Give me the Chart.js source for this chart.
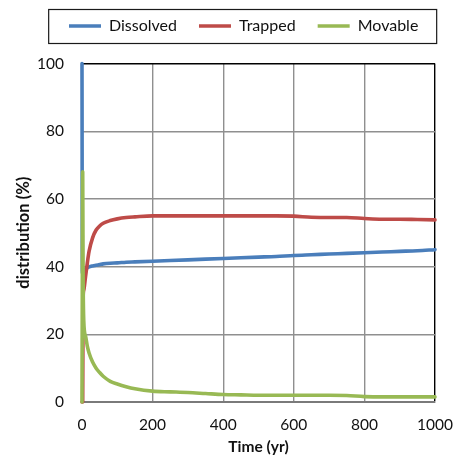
<!DOCTYPE html>
<html>
<head>
<meta charset="utf-8">
<script src="https://cdn.jsdelivr.net/npm/chart.js@4.4.1/dist/chart.umd.min.js"></script>
<style>
  html, body { margin: 0; padding: 0; background: #ffffff; }
  canvas { display: block; }
</style>
</head>
<body>
<canvas id="c" width="453" height="466"></canvas>
<script>
const years     = [0, 1, 2, 3, 5, 10, 15, 20, 30, 40, 50, 60, 80, 100, 125, 150, 200, 250, 300, 350, 400, 450, 500, 550, 600, 650, 700, 750, 800, 850, 900, 950, 1000];
const dissolved = [100, 38, 38.2, 38.4, 38.8, 39.3, 39.6, 39.9, 40.2, 40.4, 40.6, 40.8, 41.0, 41.1, 41.3, 41.4, 41.6, 41.8, 42.0, 42.2, 42.4, 42.6, 42.8, 43.0, 43.3, 43.5, 43.7, 43.9, 44.1, 44.3, 44.5, 44.7, 45.0];
const trapped   = [0, 0, 0, 30, 33, 37, 41, 44.5, 48.5, 50.8, 52, 52.8, 53.6, 54.1, 54.5, 54.7, 55, 55, 55, 55, 55, 55, 55, 55, 54.9, 54.6, 54.5, 54.5, 54.2, 54, 54, 53.9, 53.8];
const movable   = [0, 40, 68, 40, 24, 19.5, 16.5, 14.5, 11.8, 10, 8.7, 7.6, 6.1, 5.3, 4.5, 3.9, 3.2, 3.0, 2.8, 2.5, 2.2, 2.1, 2.0, 2.0, 2.0, 2.0, 2.0, 1.9, 1.6, 1.5, 1.5, 1.5, 1.5];
const seriesNames = ['Dissolved', 'Trapped', 'Movable'];
const xTicks = [0, 200, 400, 600, 800, 1000];
const yTicks = [0, 20, 40, 60, 80, 100];

const FONT = 'Lato, "Open Sans", "Liberation Sans", sans-serif';
const toXY = vals => years.map((t, i) => ({ x: t, y: vals[i] }));

const mkSet = (label, vals, color, order) => ({
  label, data: toXY(vals), borderColor: color, backgroundColor: color,
  borderWidth: 3.6, pointRadius: 0, pointHoverRadius: 0, fill: false,
  cubicInterpolationMode: 'monotone', borderCapStyle: 'round', borderJoinStyle: 'round',
  order, clip: 4
});

const legendTweak = {
  id: 'legendTweak',
  beforeInit(chart) {
    const lg = chart.legend;
    const origFit = lg.fit;
    lg.fit = function () { origFit.call(this); this.height += 15.5; };
    const origDraw = lg.draw;
    lg.draw = function () {
      const ctx = this.ctx;
      const pad = this.options.labels.padding;
      const x0 = (this.left + pad + this.right - this.lineWidths[0]) / 2;
      const dx = 69 - x0, dy = -4;
      ctx.save();
      ctx.translate(dx, dy);
      origDraw.call(this);
      const hb = this.legendHitBoxes;
      if (hb && hb.length) {
        const cy = hb[0].top + hb[0].height / 2;
        const last = hb[hb.length - 1];
        const l = hb[0].left - 21, r = last.left + last.width + 18;
        ctx.strokeStyle = '#1a1a1a';
        ctx.lineWidth = 1.2;
        ctx.strokeRect(Math.round(l) + 0.5, Math.round(cy - 17) + 0.5, Math.round(r - l), 34);
      }
      ctx.restore();
    };
  }
};

new Chart(document.getElementById('c'), {
  type: 'line',
  data: {
    datasets: [
      mkSet(seriesNames[0], dissolved, '#4A7EBB', 3),
      mkSet(seriesNames[1], trapped, '#BE4B48', 2),
      mkSet(seriesNames[2], movable, '#98B954', 1)
    ]
  },
  options: {
    responsive: false,
    animation: false,
    devicePixelRatio: 1,
    layout: { padding: { left: 0, right: 18, top: 0, bottom: 0 } },
    plugins: {
      tooltip: { enabled: false },
      legend: {
        position: 'top',
        labels: {
          usePointStyle: true, pointStyle: 'line', pointStyleWidth: 32, boxHeight: 16,
          padding: 22, color: '#111', font: { family: FONT, size: 16 },
          sort: (a, b) => a.datasetIndex - b.datasetIndex
        }
      }
    },
    scales: {
      x: {
        type: 'linear', min: 0, max: 1000,
        afterBuildTicks: s => { s.ticks = xTicks.map(v => ({ value: v })); },
        afterFit: s => { s.height = 64; s.paddingLeft = 0; s.paddingRight = 0; },
        grid: {
          drawTicks: false, lineWidth: 1.4,
          color: c => (c.tick && c.tick.value === 1000) ? '#000' : '#8f8f8f'
        },
        border: { color: '#7a7a7a', width: 2 },
        ticks: { padding: 14, color: '#111', font: { family: FONT, size: 15.5 }, maxRotation: 0, callback: v => String(v) },
        title: { display: true, text: 'Time (yr)', color: '#111', font: { family: FONT, size: 15.5, weight: 'bold' }, padding: { top: 0, bottom: 10 } }
      },
      y: {
        min: 0, max: 100,
        afterBuildTicks: s => { s.ticks = yTicks.map(v => ({ value: v })); },
        afterFit: s => { s.width = 82; },
        grid: {
          drawTicks: false, lineWidth: 1.4,
          color: c => (c.tick && c.tick.value === 100) ? '#000' : '#8f8f8f'
        },
        border: { color: '#8f8f8f', width: 1.4 },
        ticks: { padding: 18, color: '#111', font: { family: FONT, size: 15.5 }, callback: v => String(v) },
        title: { display: true, text: 'distribution (%)', color: '#111', font: { family: FONT, size: 16.5, weight: 'bold' }, padding: { top: 14, bottom: 0 } }
      }
    }
  },
  plugins: [legendTweak]
});
</script>
</body>
</html>
